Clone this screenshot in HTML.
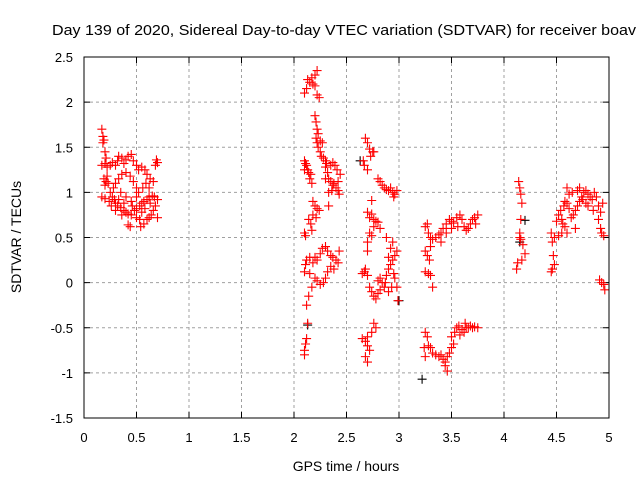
<!DOCTYPE html>
<html><head><meta charset="utf-8"><style>
body{margin:0;background:#fff}
svg{display:block;font-family:"Liberation Sans",sans-serif}
</style></head><body>
<svg id="c" width="640" height="480" xmlns="http://www.w3.org/2000/svg">
<rect width="640" height="480" fill="#fff"/>
<text x="52" y="35" font-size="15" textLength="584" lengthAdjust="spacingAndGlyphs">Day 139 of 2020, Sidereal Day-to-day VTEC variation (SDTVAR) for receiver boav</text>
<text x="346" y="471" font-size="14" text-anchor="middle">GPS time / hours</text>
<text transform="translate(21,237) rotate(-90)" font-size="14" text-anchor="middle">SDTVAR / TECUs</text>
<g id="grid"></g><g id="ticks"></g><g id="marks"></g>
<rect x="84" y="57" width="525" height="361" fill="none" stroke="#000"/>
</svg>
<script>
const xTicks=[0,0.5,1,1.5,2,2.5,3,3.5,4,4.5,5];
const yTicks=[-1.5,-1,-0.5,0,0.5,1,1.5,2,2.5];
const xTickLabels=["0","0.5","1","1.5","2","2.5","3","3.5","4","4.5","5"];
const yTickLabels=["-1.5","-1","-0.5","0","0.5","1","1.5","2","2.5"];
const blackX=[2.13,3.22,3.0,2.63,4.2,4.15];
const blackY=[-0.47,-1.07,-0.2,1.35,0.69,0.45];
const redX=[0.17,0.18,0.19,0.18,0.2,0.21,0.17,0.2,0.22,0.25,0.27,0.3,0.32,0.33,0.36,0.38,0.4,0.42,0.45,0.47,0.5,0.52,0.55,0.58,0.6,0.63,0.66,0.68,0.7,0.69,0.19,0.21,0.23,0.2,0.22,0.25,0.27,0.29,0.3,0.32,0.35,0.38,0.4,0.42,0.45,0.48,0.5,0.53,0.55,0.57,0.6,0.62,0.65,0.67,0.7,0.68,0.66,0.64,0.62,0.6,0.57,0.54,0.44,0.42,0.7,0.17,0.2,0.24,0.28,0.3,0.33,0.36,0.4,0.44,0.47,0.5,0.52,0.56,0.59,0.62,0.35,0.4,0.45,0.5,0.33,0.38,0.46,0.55,0.58,0.63,0.26,0.3,0.36,0.5,0.53,
2.1,2.12,2.13,2.15,2.17,2.2,2.22,2.18,2.2,2.22,2.24,
2.2,2.21,2.22,2.23,2.21,2.22,2.25,2.27,2.23,2.25,2.26,2.28,2.3,2.31,2.3,2.32,2.33,2.35,2.37,2.4,2.42,2.43,2.38,2.36,2.35,2.37,2.39,2.41,2.44,2.42,2.3,2.33,2.33,
2.1,2.11,2.12,2.13,2.14,2.15,2.16,2.17,2.1,2.18,
2.18,2.2,2.22,2.24,2.21,2.16,2.17,2.1,2.11,2.14,
2.1,2.11,2.12,2.15,2.18,2.2,2.22,2.25,2.27,2.3,2.32,2.35,2.37,2.4,2.42,2.43,2.2,2.22,2.25,2.28,2.3,2.32,2.35,2.38,2.15,2.17,2.14,2.12,2.13,2.12,2.11,2.1,2.1,
2.68,2.7,2.72,2.75,2.73,2.66,2.67,2.7,2.76,
2.8,2.82,2.84,2.86,2.88,2.9,2.92,2.94,2.96,2.98,2.95,
2.74,2.7,2.72,2.74,2.76,2.78,2.8,2.82,2.72,2.74,2.7,2.76,
2.7,2.68,2.67,2.7,2.65,2.72,2.74,2.76,2.78,2.8,2.82,2.8,2.82,2.84,2.86,2.88,2.9,2.92,2.94,2.96,2.98,2.9,2.92,2.94,2.88,2.95,2.93,2.96,2.98,2.99,2.87,2.9,
2.76,2.78,2.74,2.7,2.68,2.7,2.72,2.68,2.7,2.65,
3.25,3.27,3.28,3.3,3.32,3.35,3.38,3.4,3.42,3.45,3.48,3.5,3.52,3.55,3.58,3.6,3.62,3.64,3.66,3.68,3.7,3.72,3.75,3.73,3.5,3.4,3.3,3.25,3.27,3.29,3.25,3.28,3.3,3.32,3.45,3.56,
3.25,3.27,3.28,3.3,3.32,3.35,3.38,3.4,3.42,3.44,3.46,3.48,3.5,3.52,3.5,3.53,3.55,3.57,3.6,3.62,3.64,3.66,3.68,3.7,3.72,3.75,3.58,3.63,3.44,3.46,3.25,3.24,
4.14,4.15,4.16,4.17,4.16,4.15,4.16,4.18,4.2,4.17,4.12,4.13,4.15,
4.45,4.46,4.47,4.46,4.45,4.48,4.48,4.5,4.52,4.54,4.55,4.56,4.57,4.58,4.6,4.62,4.6,4.62,4.64,4.66,4.68,4.7,4.72,4.74,4.76,4.78,4.8,4.82,4.84,4.86,4.88,4.9,4.92,4.94,4.9,4.92,4.93,4.95,4.65,4.7,4.75,4.78,4.72,4.8,4.85,4.6,4.58,4.55,4.52,4.68,4.93,4.95,4.96,4.91];
const redY=[1.70,1.62,1.58,1.55,1.45,1.38,1.30,1.32,1.28,1.30,1.33,1.30,1.35,1.40,1.38,1.32,1.36,1.40,1.42,1.35,1.30,1.25,1.28,1.25,1.20,1.15,1.12,1.30,1.33,1.36,1.15,1.12,1.10,1.08,1.18,1.00,0.95,0.92,0.88,0.85,0.83,0.80,0.78,0.76,0.75,0.80,0.82,0.85,0.88,0.90,0.92,0.95,0.96,0.95,0.92,0.85,0.80,0.75,0.72,0.70,0.65,0.62,0.62,0.64,0.72,0.95,0.93,0.90,1.05,1.10,1.15,1.20,1.22,1.18,1.12,1.05,1.00,1.05,1.10,1.05,1.00,0.95,0.90,0.95,0.92,0.88,0.85,0.78,0.82,0.88,0.85,0.80,0.75,0.72,0.70,
2.10,2.15,2.25,2.22,2.27,2.30,2.35,2.20,2.18,2.08,2.05,
1.85,1.78,1.70,1.65,1.60,1.55,1.57,1.55,1.50,1.45,1.40,1.38,1.35,1.32,1.28,1.22,1.15,1.12,1.08,1.05,1.02,0.98,1.10,1.02,1.30,1.33,1.30,1.25,1.20,1.12,1.15,1.00,0.85,
1.35,1.32,1.30,1.25,1.22,1.15,1.20,1.10,1.25,0.90,
0.75,0.85,0.82,0.80,0.72,0.65,0.58,0.55,0.52,0.70,
0.12,0.20,0.25,0.28,0.22,0.28,0.25,0.32,0.38,0.40,0.35,0.30,0.28,0.25,0.22,0.35,0.05,0.02,-0.02,0.00,0.05,0.12,0.18,0.15,0.10,-0.05,-0.15,-0.25,-0.45,-0.62,-0.68,-0.75,-0.80,
1.60,1.55,1.48,1.45,1.40,1.35,1.30,1.25,1.45,
1.15,1.12,1.08,1.05,1.03,1.02,1.05,1.00,0.98,1.02,0.95,
0.91,0.78,0.72,0.76,0.70,0.68,0.67,0.60,0.55,0.52,0.45,0.62,
0.35,0.15,0.12,0.08,0.10,-0.05,-0.10,-0.15,-0.18,-0.12,-0.08,0.02,0.05,0.00,-0.05,0.08,0.15,0.20,0.25,0.30,0.35,0.28,0.38,0.45,0.50,0.10,-0.05,0.05,-0.05,-0.20,0.00,-0.10,
-0.45,-0.50,-0.55,-0.60,-0.65,-0.70,-0.75,-0.82,-0.88,-0.62,
0.62,0.65,0.55,0.50,0.48,0.50,0.53,0.55,0.60,0.65,0.70,0.68,0.66,0.72,0.75,0.70,0.62,0.58,0.60,0.65,0.70,0.72,0.75,0.65,0.60,0.45,0.40,0.35,0.30,0.25,0.12,0.10,0.08,-0.05,0.55,0.62,
-0.55,-0.60,-0.70,-0.72,-0.78,-0.80,-0.82,-0.80,-0.85,-0.88,-0.82,-0.78,-0.72,-0.68,-0.60,-0.55,-0.50,-0.48,-0.52,-0.55,-0.50,-0.50,-0.48,-0.50,-0.49,-0.50,-0.58,-0.45,-0.92,-0.98,-0.82,-0.72,
1.12,1.05,0.98,0.88,0.70,0.55,0.48,0.42,0.32,0.25,0.15,0.22,0.50,
0.55,0.45,0.30,0.15,0.12,0.20,0.50,0.68,0.75,0.80,0.70,0.65,0.85,0.90,1.05,0.98,0.88,0.82,0.72,0.75,0.80,0.85,0.90,0.95,1.00,1.02,0.98,0.95,0.92,1.00,0.95,0.85,0.78,0.88,0.70,0.60,0.55,0.52,1.00,1.02,0.92,0.88,1.05,0.85,0.80,0.55,0.62,0.55,0.52,0.60,0.00,-0.02,-0.08,0.03];
const NS="http://www.w3.org/2000/svg";
const X0=84,X1=609,Y0=418,Y1=57;
function sx(v){return X0+(v-0)/(5-0)*(X1-X0);}
function sy(v){return Y0-(v+1.5)/(2.5+1.5)*(Y0-Y1);}
function mk(tag,attrs,parent){const e=document.createElementNS(NS,tag);for(const k in attrs)e.setAttribute(k,attrs[k]);parent.appendChild(e);return e;}
const grid=document.getElementById('grid'),ticks=document.getElementById('ticks'),marks=document.getElementById('marks');
xTicks.forEach((t,i)=>{
  const x=sx(t);
  if(i>0&&i<xTicks.length-1){const g=mk('line',{x1:x,x2:x,y1:Y1,y2:Y0,stroke:'#a0a0a0','stroke-dasharray':'3,3'},grid);
  
  }
  mk('line',{x1:x,x2:x,y1:Y0,y2:Y0-6,stroke:'#000'},ticks);
  mk('line',{x1:x,x2:x,y1:Y1,y2:Y1+6,stroke:'#000'},ticks);
  const tx=mk('text',{x:x,y:442,'font-size':13,'text-anchor':'middle'},ticks);
  tx.textContent=xTickLabels[i];
  
  
});
yTicks.forEach((t,i)=>{
  const y=sy(t);
  if(i>0&&i<yTicks.length-1){const g=mk('line',{x1:X0,x2:X1,y1:y,y2:y,stroke:'#a0a0a0','stroke-dasharray':'3,3'},grid);
  
  }
  mk('line',{x1:X0,x2:X0+6,y1:y,y2:y,stroke:'#000'},ticks);
  mk('line',{x1:X1,x2:X1-6,y1:y,y2:y,stroke:'#000'},ticks);
  const tx=mk('text',{x:73,y:y+5,'font-size':13,'text-anchor':'end'},ticks);
  tx.textContent=yTickLabels[i];
  
  
});
function plus(x,y,col){
  return mk('path',{d:`M${x-4.5},${y}h9M${x},${y-4.5}v9`,stroke:col,'stroke-width':1.1,fill:'none'},marks);
}
blackX.forEach((v,i)=>{const p=plus(sx(v),sy(blackY[i]),'#000');
  
  });
redX.forEach((v,i)=>{const p=plus(sx(v),sy(redY[i]),'#f00');
  
  });
</script>
</body></html>
